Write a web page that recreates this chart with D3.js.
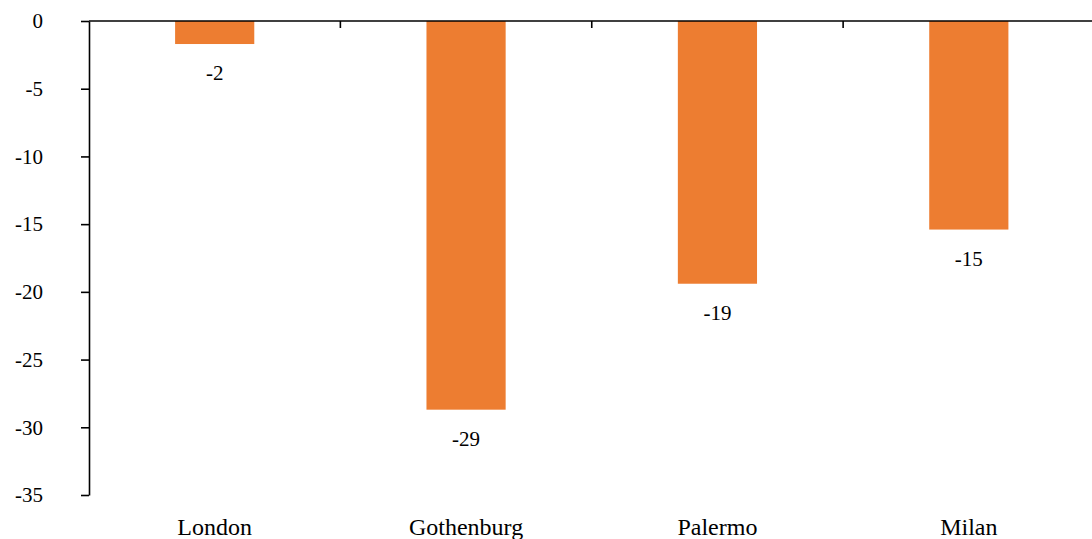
<!DOCTYPE html>
<html>
<head>
<meta charset="utf-8">
<script src="https://cdn.jsdelivr.net/npm/d3@7"></script>
<style>
  html, body { margin: 0; padding: 0; background: #fff; }
  svg { display: block; }
</style>
</head>
<body>
<svg id="chart" width="1092" height="539"></svg>
<script>
// Change by city
const cities = ["London", "Gothenburg", "Palermo", "Milan"];
const values = [-1.7, -28.7, -19.4, -15.4];
const yTicks = [0, -5, -10, -15, -20, -25, -30, -35];

const W = 1092, H = 539;
const plotLeft = 89, plotRight = 1094.5, plotTop = 21, plotBottom = 495;
const barColor = "#ED7D31";
const fontStack = "'Liberation Serif', Tinos, 'Times New Roman', 'DejaVu Serif', 'Noto Serif', serif";
const numberSize = "21px";
const categorySize = "24px";

const svg = d3.select("#chart");

const x = d3.scaleBand().domain(cities).range([plotLeft, plotRight]).paddingInner(0).paddingOuter(0);
const y = d3.scaleLinear().domain([0, -35]).range([plotTop, plotBottom]);

const barW = x.step() * 0.315;

// Plain hyphen for negative numbers
const fmtInt = d => d3.format(".0f")(d).replace("\u2212", "-");

// Bars
svg.append("g")
  .selectAll("rect")
  .data(values)
  .join("rect")
  .attr("x", (d, i) => x(cities[i]) + x.bandwidth() / 2 - barW / 2)
  .attr("y", y(0))
  .attr("width", barW)
  .attr("height", d => y(d) - y(0))
  .attr("fill", barColor);

// Value labels under each bar
svg.append("g")
  .selectAll("text")
  .data(values)
  .join("text")
  .attr("x", (d, i) => x(cities[i]) + x.bandwidth() / 2)
  .attr("y", d => y(d) + 36)
  .attr("text-anchor", "middle")
  .style("font-family", fontStack)
  .style("font-size", numberSize)
  .text(d => fmtInt(d));

// Y axis
const yAxis = svg.append("g")
  .attr("transform", `translate(${plotLeft},0)`)
  .call(d3.axisLeft(y).tickValues(yTicks).tickFormat(fmtInt).tickSize(8).tickPadding(38).tickSizeOuter(0));
yAxis.attr("font-family", null).attr("font-size", null);
yAxis.select(".domain").attr("stroke", "#000").attr("stroke-width", 1.6);
yAxis.selectAll(".tick line").attr("stroke", "#000").attr("stroke-width", 1.6);
yAxis.selectAll(".tick text")
  .attr("text-anchor", "end")
  .attr("fill", "#000")
  .style("font-family", fontStack)
  .style("font-size", numberSize);

// X axis line along zero, with ticks between categories
const xAxis = svg.append("g");
xAxis.append("line")
  .attr("x1", plotLeft).attr("x2", W)
  .attr("y1", y(0)).attr("y2", y(0))
  .attr("stroke", "#000").attr("stroke-width", 1.6);
xAxis.selectAll("line.tick")
  .data(cities.slice(0, -1))
  .join("line")
  .attr("class", "tick")
  .attr("x1", d => x(d) + x.step()).attr("x2", d => x(d) + x.step())
  .attr("y1", y(0)).attr("y2", y(0) + 7)
  .attr("stroke", "#000").attr("stroke-width", 1.6);

// Category labels at the bottom
svg.append("g")
  .selectAll("text")
  .data(cities)
  .join("text")
  .attr("x", d => x(d) + x.bandwidth() / 2)
  .attr("y", 535)
  .attr("text-anchor", "middle")
  .style("font-family", fontStack)
  .style("font-size", categorySize)
  .text(d => d);
</script>
</body>
</html>
